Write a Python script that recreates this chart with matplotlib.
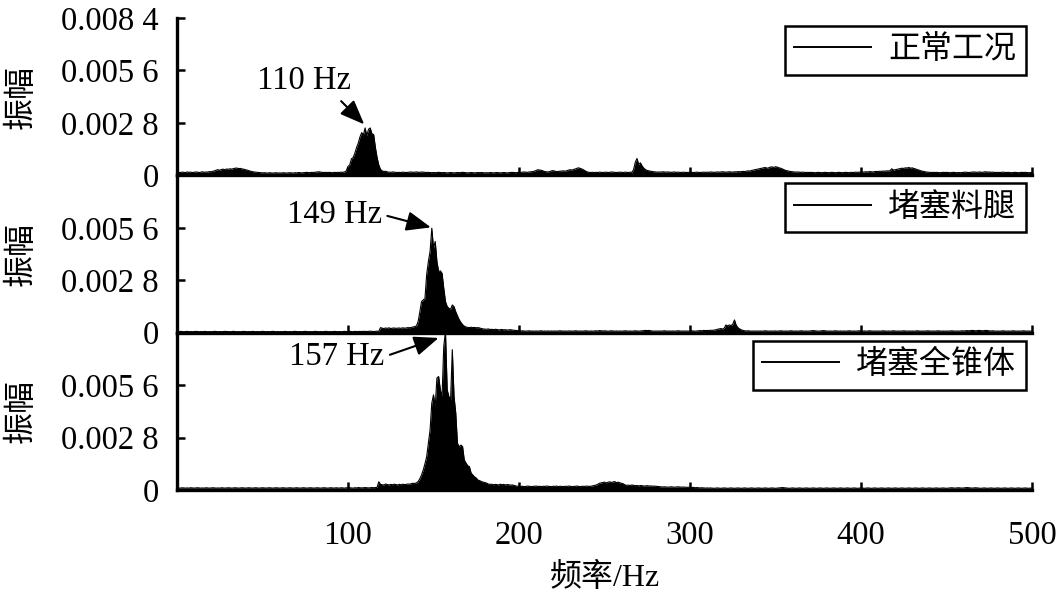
import numpy as np
import matplotlib
matplotlib.use("Agg")
import matplotlib.pyplot as plt
from matplotlib.lines import Line2D

# Amplitude spectra, 1 Hz bins from 0 to 500 Hz, values in units of 1e-5
amp_normal = [
    14,16,15,17,16,15,18,16,17,15, 16,18,17,15,17,19,16,18,17,20,
    19,22,24,28,30,27,31,33,30,34, 32,35,33,36,38,39,36,37,34,33,
    30,28,25,22,20,18,17,16,15,14, 13,14,13,12,14,13,12,13,14,12,
    13,12,14,13,12,13,14,13,12,14, 13,15,14,13,14,15,16,14,15,16,
    15,17,18,19,17,16,15,16,15,16, 15,14,16,15,16,15,17,16,18,24,
    48,55,88,95,118,148,172,205,228,215, 253,212,246,253,222,218,150,95,55,32,
    24,20,22,18,17,16,18,17,16,15, 16,15,17,16,15,16,17,18,16,17,
    18,17,16,18,17,16,15,16,15,14, 15,14,15,16,15,14,15,14,13,14,
    15,14,13,14,15,14,15,16,15,14, 13,14,15,14,13,14,15,14,15,14,
    13,14,13,15,14,13,14,15,14,13, 14,15,14,13,14,15,16,15,14,15,
    16,15,17,18,17,16,18,19,20,22, 26,30,28,27,24,20,19,18,20,24,
    25,22,20,21,22,23,24,22,25,28, 30,28,32,34,38,40,36,33,28,22,
    18,16,15,16,15,16,15,17,16,15, 16,17,15,16,18,17,16,15,16,17,
    16,15,17,16,15,17,16,30,70,90, 58,67,50,38,30,26,24,22,20,19,
    18,17,18,17,19,18,17,18,17,16, 17,18,16,17,16,15,17,16,15,16,
    15,16,15,16,17,16,15,16,17,16, 17,16,18,17,16,17,18,17,18,19,
    18,17,18,19,18,17,19,18,20,19, 20,21,20,22,24,23,26,28,30,32,
    34,36,38,40,42,38,40,44,45,42, 46,44,40,38,34,30,26,24,22,20,
    19,18,17,18,17,16,17,16,15,16, 15,16,15,14,15,16,15,14,15,16,
    15,14,15,16,15,14,15,16,15,14, 15,16,15,14,16,15,16,17,16,17,
    18,17,18,19,18,20,19,18,20,21, 20,22,21,23,22,24,23,25,35,28,
    30,32,34,36,38,37,40,39,42,38, 40,36,34,30,28,24,22,20,18,17,
    16,15,16,15,16,15,14,15,16,15, 16,15,14,15,16,15,14,15,14,15,
    16,17,16,15,16,17,18,17,16,18, 17,16,18,19,17,18,16,17,16,15,
    16,15,16,17,16,15,16,15,14,15, 16,15,14,15,16,15,16,15,14,15,
    15,
]

amp_leg = [
    6,5,7,6,5,6,7,5,6,5, 6,7,6,5,6,5,7,6,5,6,
    5,6,7,6,5,6,5,6,7,6, 6,5,6,7,6,5,6,5,6,7,
    6,5,6,5,7,6,5,6,5,6, 7,6,5,6,5,6,7,6,5,6,
    5,6,5,7,6,5,6,5,6,7, 6,5,6,5,6,7,6,5,6,5,
    6,7,6,5,6,5,6,7,6,5, 6,5,7,6,5,6,5,6,7,6,
    6,7,6,5,7,6,6,7,6,7, 7,6,7,8,7,6,7,8,7,27,
    24,22,25,23,26,22,24,25,23,24, 25,23,26,24,25,27,26,28,30,33,
    35,59,110,166,175,182,310,380,433,558, 451,487,380,326,330,317,237,166,140,130,
    125,148,139,112,90,70,55,43,35,30, 28,27,29,27,28,26,27,25,22,20,
    19,18,20,17,18,16,18,17,15,16, 17,15,16,14,15,16,14,13,12,11,
    10,9,10,9,8,9,10,8,9,8, 9,8,9,10,8,9,8,9,8,9,
    8,9,8,9,10,9,8,9,8,9, 9,8,9,10,9,8,9,8,9,10,
    9,8,9,8,9,10,9,11,10,9, 10,9,8,9,10,9,8,9,8,9,
    8,9,10,9,8,9,8,9,10,9, 8,9,10,11,12,11,12,10,9,8,
    9,8,9,8,9,10,9,8,9,8, 9,8,9,10,9,8,9,8,9,8,
    9,10,9,8,9,10,11,10,12,11, 12,11,13,12,14,15,18,20,22,19,
    24,41,36,41,38,45,68,40,27,20, 15,12,10,9,10,9,8,9,8,9,
    8,9,8,9,10,9,8,9,8,9, 9,8,9,10,9,8,9,8,9,10,
    9,8,9,8,9,10,9,8,9,8, 9,10,11,10,9,8,9,10,11,10,
    9,8,9,8,9,10,9,8,9,8, 9,8,9,10,9,8,9,8,9,10,
    9,8,9,8,9,10,9,8,9,8, 9,8,9,10,9,8,9,8,9,10,
    9,8,9,8,9,10,9,8,9,8, 9,8,9,10,9,8,9,8,9,10,
    9,8,9,8,9,10,9,8,9,8, 9,8,9,10,9,8,9,8,9,10,
    9,10,11,10,11,12,11,10,11,12, 11,10,11,12,11,10,9,10,9,8,
    9,8,9,10,9,8,9,8,9,10, 9,8,9,8,9,10,9,8,9,8,
    9,
]

amp_cone = [
    10,11,10,12,11,10,11,10,12,11, 10,11,12,11,10,11,10,12,11,10,
    11,12,11,10,11,10,12,11,10,11, 12,11,10,11,12,11,10,11,12,11,
    10,11,12,11,10,11,12,11,10,11, 12,11,10,11,12,11,10,11,12,11,
    10,11,12,11,10,11,12,11,10,11, 12,11,10,11,12,11,10,11,12,11,
    10,11,12,11,10,11,12,11,10,11, 12,11,10,12,11,10,12,11,10,12,
    11,12,11,10,12,11,13,12,11,12, 13,12,11,12,13,12,13,14,44,30,
    28,27,32,29,27,30,28,31,29,27, 30,28,31,29,30,32,31,34,36,35,
    38,45,60,80,107,140,178,250,321,464, 508,446,598,606,535,499,767,845,535,499,
    481,749,499,412,250,230,240,232,160,144, 130,125,90,80,70,64,53,50,45,42,
    40,37,32,30,31,28,30,29,27,31, 28,30,27,29,28,26,27,25,22,20,
    21,19,20,18,19,21,20,18,19,20, 21,19,20,18,20,19,21,20,19,18,
    20,19,21,18,20,19,18,20,19,21, 20,18,19,20,21,19,18,20,19,20,
    21,19,20,22,24,26,30,36,38,40, 42,38,41,44,40,43,45,39,42,38,
    36,33,27,25,26,24,27,25,23,24, 22,24,23,21,22,23,21,22,20,21,
    20,19,18,17,16,17,16,15,16,17, 16,15,16,17,16,15,16,15,14,15,
    14,13,14,12,13,12,11,12,11,10, 11,10,11,10,9,10,11,10,9,10,
    11,10,9,10,11,10,9,10,11,10, 9,10,11,10,9,10,11,10,9,10,
    11,10,9,10,11,10,9,10,11,10, 9,10,11,12,13,12,11,10,9,10,
    11,10,9,10,11,10,9,10,11,10, 9,10,11,10,9,10,11,10,9,10,
    11,10,9,10,11,10,9,10,11,10, 9,10,11,10,9,10,11,10,9,10,
    11,10,9,10,11,10,9,10,11,10, 9,10,11,10,9,10,11,10,9,10,
    11,10,9,10,11,10,9,10,11,10, 9,10,11,10,9,10,11,10,9,10,
    11,10,9,10,11,10,9,10,11,10, 9,10,11,12,11,10,11,12,11,10,
    11,12,13,12,11,10,11,12,11,10, 9,10,11,10,9,10,11,10,9,10,
    11,10,9,10,11,10,9,10,11,10, 9,10,11,10,9,10,11,10,9,10,
    10,
]

series_labels = ["正常工况", "堵塞料腿", "堵塞全锥体"]
peak_labels = ["110 Hz", "149 Hz", "157 Hz"]
peak_freqs = [109.5, 148.5, 153.0]
peak_amps = [0.00272, 0.00562, 0.00812]
text_pos = [(74, 0.00503), (92, 0.00631), (93.5, 0.00712)]
arrow_relpos = [(0.85, 0.0), (1.0, 0.5), (1.0, 0.5)]
y_ticks = [0, 0.0028, 0.0056, 0.0084]
y_ticklabels = ["0", "0.002 8", "0.005 6", "0.008 4"]
x_ticks = [100, 200, 300, 400, 500]
x_ticklabels = ["100", "200", "300", "400", "500"]
unit = 1e-5

FAM = ["Liberation Serif", "Noto Sans CJK SC", "DejaVu Sans"]
plt.rcParams["font.family"] = FAM
plt.rcParams["axes.unicode_minus"] = False

fig = plt.figure(figsize=(10.6, 6.02), dpi=100)
L, R, B, T = 177/1060, 1032/1060, 1 - 490/602, 1 - 18/602
h = (T - B) / 3
axes = []
for i in range(3):
    ax = fig.add_axes([L, T - (i + 1) * h, R - L, h])
    axes.append(ax)

FS = 23.5
CJK_FS = 23
for i, (ax, amp) in enumerate(zip(axes, [amp_normal, amp_leg, amp_cone])):
    a = np.asarray(amp, dtype=float) * unit
    f = np.arange(len(a))
    ax.fill_between(f, 0, a, color="black", lw=0)
    ax.plot(f, a, color="black", lw=0.8)
    ax.set_xlim(0, 500)
    ax.set_ylim(0, 0.0084)
    for s in ["top", "right"]:
        ax.spines[s].set_visible(False)
    for s in ["left", "bottom"]:
        ax.spines[s].set_linewidth(2.4)
    ax.set_xticks(x_ticks)
    if i == 2:
        ax.set_xticklabels(x_ticklabels)
    else:
        ax.set_xticklabels([])
    if i == 0:
        ax.set_yticks(y_ticks)
        ax.set_yticklabels(y_ticklabels)
    else:
        ax.set_yticks(y_ticks[:3])
        ax.set_yticklabels(y_ticklabels[:3])
    ax.tick_params(axis="both", direction="in", length=6, width=1.8,
                   labelsize=FS)
    ax.tick_params(axis="y", pad=13)
    ax.tick_params(axis="x", pad=22)
    ax.patch.set_alpha(0)

    h_line = Line2D([0], [0], color="black", lw=1.4)
    leg = ax.legend([h_line], [series_labels[i]], loc="upper right",
                    bbox_to_anchor=(0.993, 0.95), frameon=True,
                    fancybox=False, edgecolor="black", framealpha=1,
                    prop={"family": FAM, "size": CJK_FS},
                    handlelength=2.4, handletextpad=0.55, borderpad=0.3,
                    borderaxespad=0.0)
    leg.get_frame().set_linewidth(1.8)

    ax.annotate(peak_labels[i], xy=(peak_freqs[i], peak_amps[i]),
                xytext=text_pos[i], textcoords="data",
                ha="center", va="center", fontsize=FS,
                arrowprops=dict(arrowstyle="-|>,head_length=0.75,head_width=0.3",
                                color="black", lw=1.5, shrinkA=2, shrinkB=0,
                                relpos=arrow_relpos[i], mutation_scale=20))

    bb = ax.get_position()
    fig.text(22/1060, (bb.y0 + bb.y1) / 2, "振幅", rotation=90,
             ha="center", va="center", fontsize=CJK_FS, family=FAM)

fig.text((L + R) / 2, 1 - 578/602, "频率/Hz", ha="center", va="center",
         fontsize=CJK_FS, family=FAM)

fig.savefig("out.png", dpi=100)
